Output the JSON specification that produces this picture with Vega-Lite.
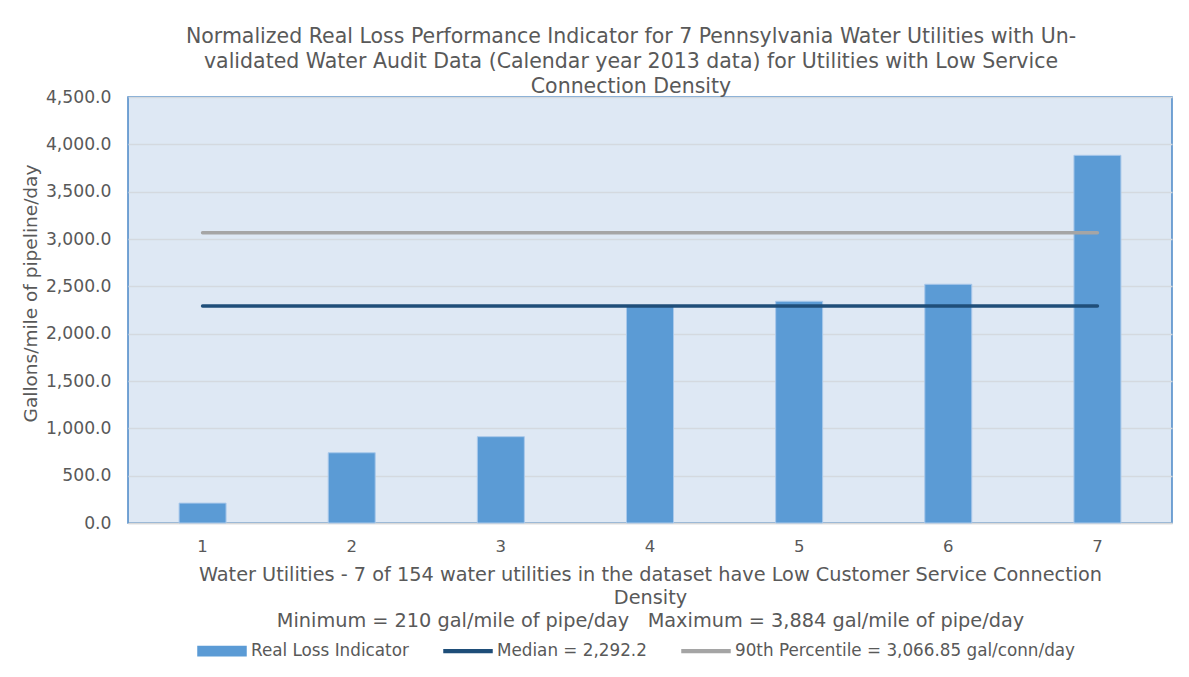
{
  "$schema": "https://vega.github.io/schema/vega-lite/v6.json",
  "autosize": {"type": "none"},
  "padding": {"left": 128, "top": 97, "right": 17, "bottom": 154},
  "width": 1044,
  "height": 426,
  "background": "white",
  "config": {
    "font": "DejaVu Sans",
    "view": {"fill": "#DEE8F4", "stroke": "#4A87C6", "strokeWidth": 1.5},
    "axis": {"labelColor": "#595959", "titleColor": "#595959", "labelFont": "DejaVu Sans", "titleFont": "DejaVu Sans", "titleFontWeight": "normal"},
    "legend": {"labelColor": "#595959", "labelFont": "DejaVu Sans"}
  },
  "title": {
    "text": [
      "Normalized Real Loss Performance Indicator for 7 Pennsylvania Water Utilities with Un-",
      "validated Water Audit Data (Calendar year 2013 data) for Utilities with Low Service",
      "Connection Density"
    ],
    "font": "DejaVu Sans",
    "fontSize": 20.5,
    "fontWeight": "normal",
    "color": "#595959",
    "lineHeight": 25,
    "anchor": "middle",
    "frame": "group",
    "dx": -19,
    "offset": -9
  },
  "datasets": {
    "bars": [
      {"utility": "1", "value": 210, "series": "Real Loss Indicator"},
      {"utility": "2", "value": 742, "series": "Real Loss Indicator"},
      {"utility": "3", "value": 912, "series": "Real Loss Indicator"},
      {"utility": "4", "value": 2292.2, "series": "Real Loss Indicator"},
      {"utility": "5", "value": 2342, "series": "Real Loss Indicator"},
      {"utility": "6", "value": 2522, "series": "Real Loss Indicator"},
      {"utility": "7", "value": 3884, "series": "Real Loss Indicator"}
    ],
    "lines": [
      {"utility": "1", "value": 2292.2, "series": "Median = 2,292.2"},
      {"utility": "7", "value": 2292.2, "series": "Median = 2,292.2"},
      {"utility": "1", "value": 3066.85, "series": "90th Percentile = 3,066.85 gal/conn/day"},
      {"utility": "7", "value": 3066.85, "series": "90th Percentile = 3,066.85 gal/conn/day"}
    ]
  },
  "encoding": {
    "x": {
      "field": "utility",
      "type": "nominal",
      "scale": {"domain": ["1", "2", "3", "4", "5", "6", "7"], "paddingInner": 0.685, "paddingOuter": 0.3425},
      "axis": {
        "labelAngle": 0,
        "labelFontSize": 16.5,
        "labelPadding": 15,
        "ticks": false,
        "domainColor": "#D9D9D9",
        "domainWidth": 1.5,
        "title": [
          "Water Utilities - 7 of 154 water utilities in the dataset have Low Customer Service Connection",
          "Density",
          "Minimum = 210 gal/mile of pipe/day\u00a0\u00a0 Maximum = 3,884 gal/mile of pipe/day"
        ],
        "titleFontSize": 19.3,
        "titleLineHeight": 23,
        "titlePadding": 11
      }
    },
    "y": {
      "field": "value",
      "type": "quantitative",
      "scale": {"domain": [0, 4500], "nice": false},
      "axis": {
        "values": [0, 500, 1000, 1500, 2000, 2500, 3000, 3500, 4000, 4500],
        "format": ",.1f",
        "labelFontSize": 17.2,
        "labelPadding": 17,
        "ticks": false,
        "domain": false,
        "gridColor": "#D4D9DF",
        "gridWidth": 1.5,
        "title": "Gallons/mile of pipeline/day",
        "titleFontSize": 18.5,
        "titlePadding": 5,
        "titleY": 196
      }
    },
    "color": {
      "field": "series",
      "type": "nominal",
      "scale": {
        "domain": ["Real Loss Indicator", "Median = 2,292.2", "90th Percentile = 3,066.85 gal/conn/day"],
        "range": ["#5B9BD5", "#1F4E79", "#A5A5A5"]
      },
      "legend": {
        "title": null,
        "orient": "none",
        "direction": "horizontal",
        "legendX": 69,
        "legendY": 529,
        "labelFontSize": 16.8,
        "labelLimit": 0,
        "labelOffset": 4,
        "columnPadding": 32,
        "symbolSize": 2304,
        "symbolType": "M-1,-0.19H1V0.19H-1Z",
        "encode": {
          "symbols": {
            "update": {
              "shape": {"signal": "datum.label == 'Real Loss Indicator' ? 'M-1,-0.19H1V0.19H-1Z' : 'M-1,-0.06H1V0.06H-1Z'"},
              "fill": {"scale": "color", "field": "value"},
              "stroke": {"value": "transparent"},
              "opacity": {"value": 1},
              "fillOpacity": {"value": 1}
            }
          }
        }
      }
    }
  },
  "layer": [
    {
      "data": {"name": "bars"},
      "mark": {"type": "bar", "stroke": "#A9C8EA", "strokeWidth": 1, "fillOpacity": 1}
    },
    {
      "data": {"name": "lines"},
      "mark": {"type": "line", "strokeWidth": 3.5, "strokeCap": "round"},
      "encoding": {"detail": {"field": "series"}}
    }
  ]
}
